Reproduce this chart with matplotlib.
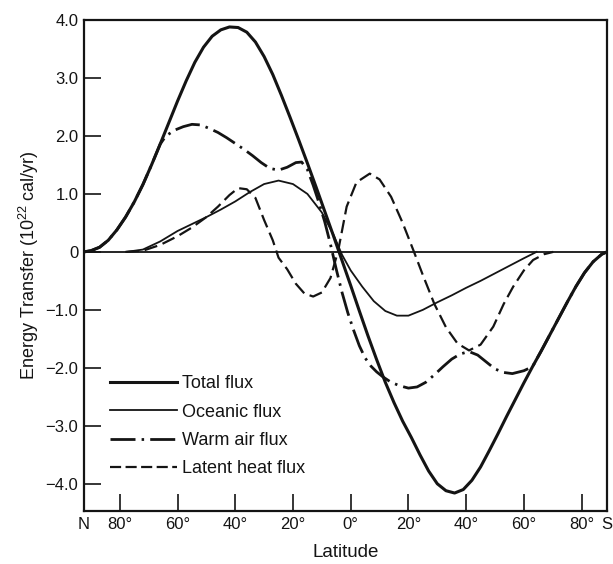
import matplotlib
matplotlib.use("Agg")
import matplotlib.pyplot as plt
from matplotlib.lines import Line2D

# Latitude runs from the North pole (left, negative) to the South pole (right, positive)
lat_total = [-92.4, -90, -87, -84, -81, -78, -75, -72, -69, -66, -63, -60, -57, -54, -51,
             -48, -45, -42, -39, -36, -33, -30, -27, -24, -21, -18, -15, -12, -9, -6, -3,
             0, 3, 6, 9, 12, 15, 18, 21, 24, 27, 30, 33, 36, 39, 42, 45, 48, 51, 54, 57,
             60, 63, 66, 69, 72, 75, 78, 81, 84, 87, 88.8]
total_flux = [0, 0.02, 0.08, 0.2, 0.38, 0.6, 0.86, 1.16, 1.5, 1.86, 2.23, 2.6, 2.95, 3.27, 3.53,
              3.72, 3.83, 3.88, 3.87, 3.79, 3.62, 3.37, 3.06, 2.7, 2.32, 1.93, 1.53, 1.12, 0.7,
              0.28, -0.15, -0.58, -1.02, -1.45, -1.86, -2.25, -2.6, -2.92, -3.2, -3.5, -3.78,
              -4.0, -4.12, -4.16, -4.1, -3.94, -3.71, -3.43, -3.14, -2.84, -2.55, -2.26, -1.98,
              -1.71, -1.43, -1.15, -0.87, -0.6, -0.36, -0.17, -0.04, 0]

lat_ocean = [-77.7, -72, -66, -60, -55, -50, -45, -40, -35, -30, -25, -20, -15, -10, -6, -3,
             0, 4, 8, 12, 16, 20, 25, 30, 35, 40, 45, 50, 55, 60, 64.4]
ocean_flux = [0, 0.04, 0.18, 0.36, 0.48, 0.6, 0.73, 0.87, 1.03, 1.17, 1.23, 1.17, 1.0, 0.68,
              0.3, -0.05, -0.32, -0.6, -0.85, -1.02, -1.1, -1.1, -1.0, -0.87, -0.75, -0.62,
              -0.5, -0.37, -0.24, -0.11, 0]

lat_warm = [-92.4, -90, -87, -84, -81, -78, -75, -72, -69, -66, -64, -61, -58, -55, -52, -49,
            -46, -43, -40, -37, -34, -31, -28, -25, -22, -19, -17, -15, -13, -11, -9, -7, -5,
            -3, -1, 1, 3, 5, 7, 9, 11, 14, 17, 20, 23, 26, 29, 32, 35, 38, 41, 44, 47, 50, 53,
            56, 60, 63, 66, 69, 72, 75, 78, 81, 84, 87, 88.8]
warm_air_flux = [0, 0.02, 0.08, 0.2, 0.38, 0.6, 0.86, 1.16, 1.5, 1.86, 2.0, 2.1, 2.16, 2.2,
                 2.19, 2.13, 2.06, 1.97, 1.87, 1.77, 1.66, 1.54, 1.44, 1.41, 1.46, 1.54, 1.55,
                 1.42, 1.15, 0.85, 0.52, 0.13, -0.3, -0.7, -1.05, -1.35, -1.62, -1.83, -1.97,
                 -2.07, -2.15, -2.25, -2.31, -2.35, -2.33, -2.25, -2.12, -1.98, -1.85, -1.76,
                 -1.72, -1.78, -1.9, -2.02, -2.08, -2.1, -2.05, -1.98, -1.71, -1.43, -1.15,
                 -0.87, -0.6, -0.36, -0.17, -0.04, 0]

lat_latent = [-78, -72, -66, -60, -55, -50, -46, -42, -39, -36, -33, -30, -27, -25, -22, -19,
              -16, -13, -10, -7, -4.3, -1.4, 2, 6.6, 10, 14, 18, 21.7, 25, 29, 33, 37, 41, 45,
              49.4, 53, 56.3, 60, 63.2, 67, 70.2]
latent_flux = [0, 0.02, 0.12, 0.27, 0.42, 0.6, 0.78, 0.98, 1.1, 1.08, 0.93, 0.55, 0.2, -0.1,
               -0.3, -0.55, -0.72, -0.77, -0.7, -0.45, 0.03, 0.78, 1.2, 1.35, 1.25, 0.95, 0.5,
               0.03, -0.4, -0.9, -1.3, -1.58, -1.7, -1.6, -1.29, -0.9, -0.6, -0.32, -0.14,
               -0.04, 0]

series_labels = ["Total flux", "Oceanic flux", "Warm air flux", "Latent heat flux"]

y_ticks = [4, 3, 2, 1, 0, -1, -2, -3, -4]
y_tick_labels = ["4.0", "3.0", "2.0", "1.0", "0", "\u22121.0", "\u22122.0", "\u22123.0", "\u22124.0"]
x_ticks = [-92.4, -80, -60, -40, -20, 0, 20, 40, 60, 80, 88.8]
x_tick_labels = ["N", "80°", "60°", "40°", "20°", "0°", "20°", "40°", "60°", "80°", "S"]

plt.rcParams["font.family"] = ["Liberation Sans", "DejaVu Sans"]
plt.rcParams["mathtext.fontset"] = "custom"
plt.rcParams["mathtext.rm"] = "Liberation Sans"

ink = "#141414"
warm_style = (0, (9, 2.2, 0.9, 2.2))

fig = plt.figure(figsize=(6.13, 5.64), dpi=100)
ax = fig.add_axes([84 / 613, 1 - 511 / 564, (607 - 84) / 613, (511 - 20) / 564])

ax.axhline(0, color=ink, lw=1.3, zorder=1)

ax.plot(lat_total, total_flux, color=ink, lw=2.2, solid_joinstyle="round",
        solid_capstyle="round", label=series_labels[0], zorder=3)
ax.plot(lat_ocean, ocean_flux, color=ink, lw=1.3, solid_joinstyle="round",
        label=series_labels[1], zorder=3)
ax.plot(lat_warm, warm_air_flux, color=ink, lw=2.0, linestyle=warm_style,
        dash_capstyle="butt", dash_joinstyle="round", label=series_labels[2], zorder=3)
ax.plot(lat_latent, latent_flux, color=ink, lw=1.6, linestyle=(0, (6, 2.6)),
        dash_capstyle="butt", label=series_labels[3], zorder=3)

ax.set_xlim(-92.4, 88.8)
ax.set_ylim(-4.47, 4.0)

ax.set_yticks(y_ticks)
ax.set_yticklabels(y_tick_labels)
ax.set_xticks(x_ticks)
ax.set_xticklabels(x_tick_labels)
ax.tick_params(axis="both", direction="in", length=12, width=1.2, colors=ink,
               labelsize=12, pad=4)

for side in ax.spines.values():
    side.set_linewidth(1.6)
    side.set_color(ink)

ax.set_xlabel("Latitude", fontsize=13.5, color=ink, labelpad=9)
ax.set_ylabel("Energy Transfer (10$^{22}$ cal/yr)", fontsize=13, color=ink, labelpad=3)

handles = [
    Line2D([], [], color=ink, lw=2.2),
    Line2D([], [], color=ink, lw=1.3),
    Line2D([], [], color=ink, lw=2.0, linestyle=warm_style),
    Line2D([], [], color=ink, lw=1.6, linestyle=(0, (5, 2))),
]
leg = ax.legend(handles, series_labels, loc="upper left", bbox_to_anchor=(0.05, 0.276),
                frameon=False, fontsize=13, handlelength=3.7, handletextpad=0.3,
                labelspacing=0.62, borderpad=0, borderaxespad=0)
for t in leg.get_texts():
    t.set_color(ink)

fig.savefig("out.png", dpi=100, facecolor="white")
